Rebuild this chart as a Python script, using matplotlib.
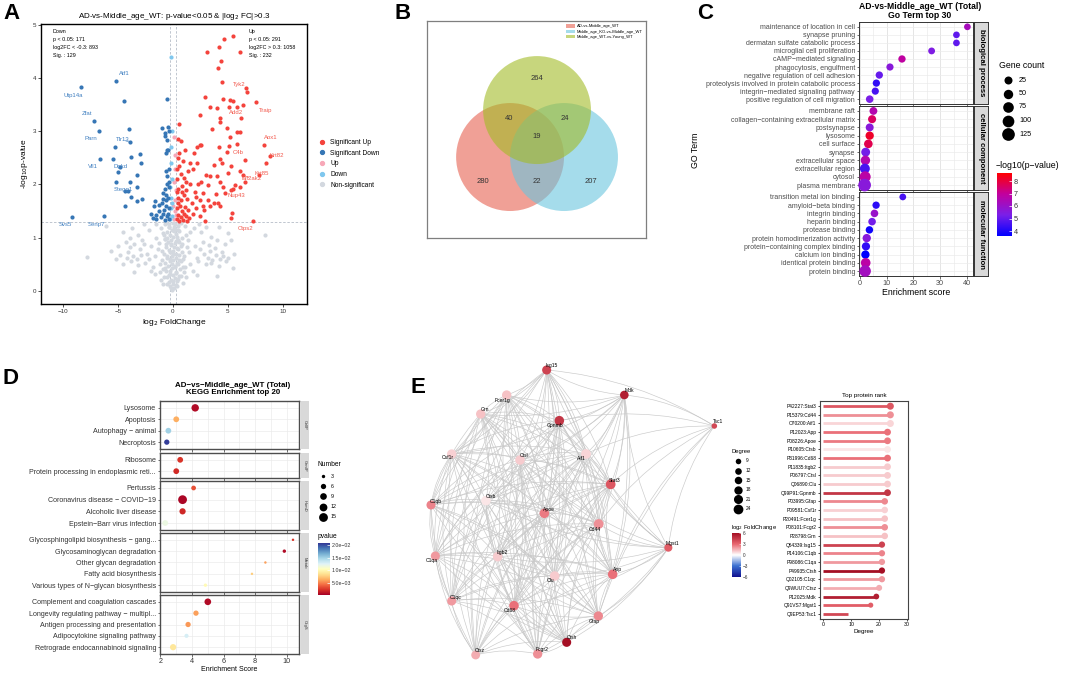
import numpy as np
import matplotlib
matplotlib.use('Agg')
import matplotlib.pyplot as plt
from matplotlib.colors import LinearSegmentedColormap, Normalize
from matplotlib.patches import Circle, FancyArrowPatch, Patch
from matplotlib.lines import Line2D
from matplotlib.cm import ScalarMappable

plt.rcParams['font.family'] = ['Liberation Sans', 'DejaVu Sans']

# ---------------- data: A volcano ----------------
ns_points = [(-0.1,0.02),(0.1,0.05),(-0.3,0.08),(0.25,0.1),(0,0.13),(-0.4,0.16),(0.4,0.18),(-0.15,0.2),(0.15,0.23),
    (-0.5,0.25),(0.55,0.27),(0,0.3),(-0.3,0.32),(0.3,0.35),(-0.6,0.37),(0.65,0.4),(-0.1,0.42),(0.2,0.45),(-0.45,0.47),
    (0.45,0.5),(-0.7,0.52),(0.75,0.55),(0,0.57),(-0.25,0.6),(0.3,0.62),(-0.55,0.65),(0.6,0.67),(-0.8,0.7),(0.85,0.72),
    (0.05,0.75),(-0.35,0.77),(0.4,0.8),(-0.65,0.82),(0.7,0.85),(-0.15,0.87),(0.15,0.9),(-0.45,0.92),(0.5,0.95),(-0.75,0.97),
    (0.8,1.0),(0,1.02),(-0.3,1.05),(0.3,1.07),(-0.55,1.1),(0.6,1.12),(-0.1,1.15),(0.2,1.17),(-0.4,1.2),(0.45,1.22),
    (-0.7,1.25),(0.7,1.27),(0,1.28),(-0.2,0.95),(0.25,0.7),(-0.05,0.5),(0.1,1.2),(-0.85,1.05),(0.9,0.6),
    (-0.8,0.25),(-0.4,0.3),(0.3,0.33),(0.7,0.27),(-1.2,0.35),(1.0,0.36),(-2.0,0.38),(2.2,0.3),(4.0,0.28),(-3.5,0.35),
    (-4.5,0.5),(-3.8,0.55),(-3.2,0.48),(-2.5,0.52),(-1.8,0.45),(-1.2,0.5),(-0.7,0.42),(-0.3,0.55),(0.2,0.47),(0.6,0.58),
    (1.1,0.44),(1.6,0.5),(2.3,0.55),(3.0,0.5),(3.6,0.58),(4.2,0.46),(4.8,0.55),(-5.2,0.6),(5.5,0.42),
    (-5.6,0.75),(-4.8,0.68),(-4.1,0.72),(-3.6,0.65),(-3.0,0.78),(-2.4,0.7),(-1.6,0.66),(-1.0,0.74),(-0.5,0.62),(0,0.7),
    (0.5,0.78),(1.0,0.65),(1.5,0.72),(2.2,0.62),(2.8,0.7),(3.4,0.75),(3.9,0.67),(4.5,0.73),(5.0,0.62),(5.6,0.7),(-7.8,0.63),
    (-5.0,0.85),(-4.3,0.92),(-3.5,0.88),(-2.8,0.95),(-2.0,0.84),(-1.3,0.9),(-0.7,0.98),(-0.2,0.86),(0.3,0.94),(0.8,0.88),
    (1.4,0.96),(2.0,0.85),(2.7,0.92),(3.3,0.86),(4.0,0.95),(4.7,0.88),(5.3,0.96),(-3.9,1.0),
    (-6.1,1.22),(-4.5,1.1),(-3.2,1.05),(-2.2,1.15),(-1.5,1.25),(-0.9,1.08),(-0.4,1.2),(0.1,1.12),(0.6,1.27),(1.2,1.05),
    (1.9,1.18),(2.6,1.1),(3.5,1.02),(4.2,1.2),(5.0,1.08),(8.4,1.05),(-0.6,1.28),(0.4,1.02),
    (-3.3,0.6),(-3.9,0.82),(-4.2,0.62),(-2.9,0.68),(3.2,0.62),(3.8,0.8),(4.3,0.6),(3.5,0.52),(4.6,0.66),(-1.1,0.2),(1.2,0.25),
    (-1.5,1.0),(1.6,1.1),(-2.6,1.25),(2.4,1.25),(-1.0,0.58),(1.3,0.82),(-1.4,0.78),(0.9,0.15),(-0.9,0.12),
    (-0.2,0.05),(0.35,0.08),(-0.55,0.12),(0.05,0.18),(-0.25,0.38),(0.5,0.22),(-0.9,0.4),(0.9,0.45),(-0.1,0.65),
    (0.6,0.92),(-0.6,0.88),(0.2,1.25),(-0.3,0.72),(0.35,0.52),(-0.5,1.0),(0.45,1.15),(-0.35,1.25),(0.1,0.82),
    (-2.2,0.6),(-1.6,0.32),(1.8,0.38),(2.5,0.78),(-2.6,0.88),(1.1,1.22),(-1.1,1.18),(3.0,1.2),(-3.7,1.18)]
up_sig_points = [(5.5,4.79),(4.62,4.74),(3.07,4.49),(6.1,4.49),(4.2,4.59),(4.4,4.32),(4.13,4.19),(4.5,3.93),(6.63,3.81),
    (6.7,3.74),(2.95,3.65),(3.37,3.46),(3.98,3.43),(4.6,3.6),(5.2,3.59),(5.5,3.58),(7.54,3.55),(5.13,3.45),(5.8,3.46),
    (6.4,3.49),(2.46,3.3),(4.29,3.26),(6.17,3.26),(4.3,3.18),(4.9,3.07),(3.56,3.04),(5.8,2.98),(6.1,2.98),(5.2,2.89),
    (5.8,2.76),(5.13,2.73),(4.2,2.7),(8.3,2.74),(2.46,2.74),(2.15,2.7),(4.9,2.62),(6.56,2.46),(4.3,2.47),(4.45,2.41),
    (8.8,2.53),(8.5,2.41),(3.7,2.37),(5.26,2.34),(6.1,2.26),(3.0,2.18),(3.37,2.15),(3.98,2.16),(5.05,2.21),(6.35,2.18),
    (7.8,2.18),(6.56,2.05),(2.6,2.05),(3.2,1.99),(4.3,2.05),(5.65,1.99),(4.6,1.96),(6.1,1.96),(5.5,1.91),(4.77,1.84),
    (3.92,1.82),(2.77,1.84),(2.07,1.77),(2.46,1.71),(3.2,1.71),(3.7,1.66),(4.13,1.66),(5.26,1.9),(3.37,1.59),(2.83,1.52),
    (4.3,1.59),(5.35,1.46),(5.26,1.36),(7.33,1.32),(2.92,1.31),
    (0.35,1.35),(0.5,1.42),(0.7,1.38),(0.9,1.33),(1.2,1.4),(1.5,1.36),(0.4,1.55),(0.65,1.6),(0.85,1.5),(1.1,1.58),
    (1.4,1.52),(1.8,1.45),(0.45,1.75),(0.75,1.7),(1.0,1.8),(1.3,1.72),(1.7,1.65),(2.1,1.55),(0.5,1.92),(0.8,1.98),
    (1.2,1.9),(1.6,2.0),(2.0,1.85),(0.4,2.1),(0.7,2.2),(1.0,2.12),(1.4,2.25),(1.8,2.3),(2.2,2.4),(0.55,2.35),(0.9,2.45),
    (0.6,2.6),(1.1,2.65),(0.5,2.85),(0.7,2.82),(0.55,3.13),(0.35,1.85),(0.38,2.3),(2.5,1.4),(2.7,1.6),(1.9,2.6),
    (2.6,2.75),(1.6,2.4),(2.3,2.0),(0.6,1.32),(1.0,1.45),(1.3,1.32),(0.45,1.65),(0.8,1.85),(1.2,2.05),(0.5,2.5)]
down_sig_points = [(-8.39,3.83),(-5.14,3.95),(-4.47,3.57),(-0.58,3.6),(-7.17,3.2),(-6.75,3.01),(-3.98,3.04),(-3.86,2.79),
    (-5.29,2.7),(-6.6,2.48),(-5.44,2.48),(-3.77,2.51),(-3.0,2.57),(-2.86,2.41),(-5.0,2.24),(-4.83,2.32),(-3.3,2.18),
    (-5.2,2.05),(-3.86,2.05),(-4.38,1.87),(-4.13,1.87),(-3.3,1.96),(-3.77,1.76),(-3.3,1.68),(-2.77,1.72),(-4.38,1.6),
    (-9.15,1.38),(-6.3,1.4),(-1.85,1.37),(-1.55,1.43),(-1.24,1.62),(-1.64,1.68),(-0.88,1.84),(-1.03,3.06),(-0.43,3.09),
    (-0.73,2.96),(-0.58,2.84),(-0.58,2.65),
    (-0.35,1.35),(-0.5,1.4),(-0.7,1.33),(-0.9,1.45),(-1.1,1.38),(-0.4,1.55),(-0.6,1.6),(-0.8,1.52),(-1.0,1.65),(-1.3,1.5),
    (-0.45,1.75),(-0.65,1.8),(-0.9,1.72),(-0.4,1.95),(-0.55,2.0),(-0.75,1.92),(-0.5,2.15),(-0.65,2.25),(-0.35,2.3),
    (-0.6,2.6),(-0.45,2.65),(-0.7,2.92),(-0.4,3.0),(-1.5,1.35),(-2.0,1.45),(-1.7,1.6),(-0.45,1.45),(-0.6,1.7),(-0.4,2.05)]
up_points = [(0.1,1.35),(0.2,1.5),(0.15,1.7),(0.25,1.9),(0.1,2.05),(0.2,2.3),(0.15,2.55),(0.05,1.6),(0.28,1.42),(0.12,2.9)]
down_points = [(-0.1,1.4),(-0.2,1.55),(-0.15,1.75),(-0.25,1.95),(-0.1,2.1),(-0.2,2.4),(-0.15,2.7),(-0.05,1.65),
    (-0.25,1.35),(-0.2,4.4),(-0.1,3.0)]
down_genes = ['Utp14a', 'Atf1', 'Zfat', 'Parn', 'Tlr13', 'Vil1', 'Dgkd', 'Stegg1', 'Svs5', 'Senp7']
down_gene_xy = [(-8.39,3.83),(-5.14,3.95),(-7.17,3.2),(-6.75,3.01),(-3.86,2.79),(-6.6,2.48),(-5.0,2.24),(-5.2,2.05),
    (-9.15,1.38),(-6.3,1.4)]
down_text_xy = [(-9.03,3.68),(-4.44,4.09),(-7.81,3.34),(-7.42,2.86),(-4.59,2.84),(-7.26,2.34),(-4.77,2.34),(-4.53,1.9),
    (-9.76,1.24),(-6.96,1.25)]
up_genes = ['Tyk2', 'Traip', 'Add2', 'Aox1', 'C4b', 'Krt82', 'Krt85', 'Eif2ak2', 'Nup43', 'Ctps2']
up_gene_xy = [(6.7,3.74),(7.54,3.55),(5.13,3.45),(8.3,2.74),(6.56,2.46),(8.8,2.53),(8.5,2.41),(6.35,2.18),(5.26,1.9),(7.33,1.32)]
up_text_xy = [(6.05,3.89),(8.45,3.4),(5.74,3.35),(8.94,2.88),(5.9,2.6),(9.45,2.54),(8.09,2.21),(7.17,2.11),(5.8,1.79),(6.63,1.18)]
down_stats = "Down\np < 0.05: 171\nlog2FC < -0.3: 893\nSig. : 129"
up_stats = "Up\np < 0.05: 291\nlog2FC > 0.3: 1058\nSig. : 232"

# ---------------- data: B venn ----------------
venn_sets = ['AD-vs-Middle_age_WT', 'Middle_age_KO-vs-Middle_age_WT', 'Middle_age_WT-vs-Young_WT']
venn_counts = {'A': 280, 'B': 207, 'C': 264, 'AC': 40, 'BC': 24, 'AB': 22, 'ABC': 19}

# ---------------- data: C GO ----------------
go_groups = ['biological process', 'cellular component', 'molecular function']
bp_terms = ['maintenance of location in cell', 'synapse pruning', 'dermatan sulfate catabolic process',
            'microglial cell proliferation', 'cAMP\u2212mediated signaling', 'phagocytosis, engulfment',
            'negative regulation of cell adhesion', 'proteolysis involved in protein catabolic process',
            'integrin\u2212mediated signaling pathway', 'positive regulation of cell migration']
bp_score = [40.2, 36.1, 36.1, 26.8, 15.7, 11.2, 7.2, 6.1, 5.7, 3.6]
bp_logp = [6.3, 4.9, 4.9, 5.4, 6.9, 5.6, 5.0, 4.3, 4.6, 5.3]
bp_count = [5, 5, 5, 7, 14, 12, 14, 13, 12, 18]
cc_terms = ['membrane raft', 'collagen\u2212containing extracellular matrix', 'postsynapse', 'lysosome', 'cell surface',
            'synapse', 'extracellular space', 'extracellular region', 'cytosol', 'plasma membrane']
cc_score = [5.0, 4.5, 3.6, 3.6, 3.1, 2.1, 2.0, 1.8, 1.9, 1.7]
cc_logp = [6.6, 7.6, 5.6, 8.2, 7.8, 5.2, 6.6, 4.6, 6.8, 5.6]
cc_count = [22, 26, 24, 30, 35, 40, 50, 60, 85, 125]
mf_terms = ['transition metal ion binding', 'amyloid\u2212beta binding', 'integrin binding', 'heparin binding',
            'protease binding', 'protein homodimerization activity', 'protein\u2212containing complex binding',
            'calcium ion binding', 'identical protein binding', 'protein binding']
mf_score = [16.0, 6.0, 5.4, 4.5, 3.5, 2.5, 2.2, 2.0, 2.1, 1.9]
mf_logp = [4.6, 4.2, 6.0, 5.2, 3.8, 5.6, 4.3, 3.6, 6.8, 6.2]
mf_count = [6, 14, 18, 18, 16, 30, 28, 30, 55, 95]
go_size_legend = [25, 50, 75, 100, 125]

# ---------------- data: D KEGG ----------------
kegg_groups = ['CellP', 'GenIP', 'HumD', 'Metab', 'OrgS']
cellp_terms = ['Lysosome', 'Apoptosis', 'Autophagy \u2212 animal', 'Necroptosis']
cellp_score = [4.2, 3.0, 2.5, 2.4]
cellp_p = [0.0008, 0.0065, 0.0150, 0.0205]
cellp_n = [11, 7, 7, 6]
genip_terms = ['Ribosome', 'Protein processing in endoplasmic reti...']
genip_score = [3.25, 3.0]
genip_p = [0.0025, 0.0022]
genip_n = [7, 7]
humd_terms = ['Pertussis', 'Coronavirus disease \u2212 COVID\u221219', 'Alcoholic liver disease', 'Epstein\u2212Barr virus infection']
humd_score = [4.1, 3.4, 3.4, 2.3]
humd_p = [0.0035, 0.0006, 0.0020, 0.0118]
humd_n = [5, 15, 8, 7]
metab_terms = ['Glycosphingolipid biosynthesis \u2212 gang...', 'Glycosaminoglycan degradation', 'Other glycan degradation',
               'Fatty acid biosynthesis', 'Various types of N\u2212glycan biosynthesis']
metab_score = [10.4, 9.85, 8.65, 7.8, 4.85]
metab_p = [0.0025, 0.0008, 0.0060, 0.0078, 0.0102]
metab_n = [2, 3, 2, 2, 3]
orgs_terms = ['Complement and coagulation cascades', 'Longevity regulating pathway \u2212 multipl...',
              'Antigen processing and presentation', 'Adipocytokine signaling pathway', 'Retrograde endocannabinoid signaling']
orgs_score = [5.0, 4.25, 3.75, 3.65, 2.8]
orgs_p = [0.0008, 0.0060, 0.0058, 0.0130, 0.0090]
orgs_n = [9, 6, 6, 4, 8]
kegg_size_legend = [3, 6, 9, 12, 15]

# ---------------- data: E network + rank ----------------
proteins = ['Stat3', 'Cd44', 'Aif1', 'App', 'Apoe', 'Ctsb', 'Cd68', 'Itgb2', 'Ctsl', 'Clu', 'Gpnmb', 'Gfap', 'Csf1r',
            'Fcer1g', 'Fcgr2', 'Grn', 'Isg15', 'C1qb', 'C1qa', 'Ctsh', 'C1qc', 'Ctsz', 'Mdk', 'Mgst1', 'Tsc1']
accessions = ['P42227', 'P15379', 'O70200', 'P12023', 'P08226', 'P10605', 'P31996', 'P11835', 'P06797', 'Q06890',
              'Q99P91', 'P03995', 'P09581', 'P20491', 'P08101', 'P28798', 'Q64339', 'P14106', 'P98086', 'P49935',
              'Q02105', 'Q9WUU7', 'P12025', 'Q91VS7', 'Q9EP53']
degree = [24, 24, 24, 23, 23, 23, 23, 23, 23, 23, 23, 22, 22, 22, 22, 22, 21, 21, 21, 21, 21, 20, 19, 17, 9]
log2fc = [3.5, 2.2, 0.8, 2.8, 2.6, 0.5, 2.8, 1.0, 1.0, 1.0, 4.6, 2.3, 0.9, 1.2, 2.2, 1.2, 4.2, 2.4, 2.0, 6.0, 2.0,
          1.6, 5.4, 3.3, 4.0]
# layout coordinates of the network drawing
layout_x = [75.2, 71.6, 67.8, 75.8, 55.3, 37.8, 46.2, 41.3, 48.0, 58.4, 59.8, 71.5, 27.5, 44.0, 53.3, 36.2, 56.0, 21.3,
            22.6, 62.0, 27.5, 34.7, 79.3, 92.5, 106.3]
layout_y = [49.3, 61.2, 40.2, 76.3, 58.0, 54.2, 85.7, 71.0, 42.0, 76.8, 30.2, 88.8, 40.2, 22.5, 100.2, 28.2, 15.0, 55.5,
            70.8, 96.7, 84.3, 100.5, 22.5, 68.3, 31.8]
tsc1_links = ['Isg15', 'Mdk', 'Gpnmb', 'Aif1', 'Stat3', 'Cd44', 'Mgst1', 'App', 'Gfap']
missing_links = [('Mgst1', 'C1qb'), ('Mgst1', 'C1qa'), ('Mgst1', 'C1qc'), ('Mgst1', 'Ctsz'), ('Mgst1', 'Grn'),
                 ('Mgst1', 'Csf1r'), ('Mgst1', 'Fcer1g'), ('Mdk', 'Ctsz'), ('Mdk', 'C1qc'), ('Mdk', 'Ctsh'),
                 ('Mdk', 'Fcgr2'), ('Mdk', 'C1qa'), ('Isg15', 'Ctsz'), ('Isg15', 'Ctsh'), ('Isg15', 'Gfap'),
                 ('App', 'C1qb'), ('Gpnmb', 'Gfap')]
degree_legend = [9, 12, 15, 18, 21, 24]

# ---------------- figure ----------------
W, H = 1065, 673
fig = plt.figure(figsize=(W / 100, H / 100), dpi=100)


def add_ax(x0, y0, x1, y1, **kw):
    return fig.add_axes([x0 / W, 1 - y1 / H, (x1 - x0) / W, (y1 - y0) / H], **kw)


def px(x, y):
    return (x / W, 1 - y / H)


for lab, (lx, ly) in zip('ABCDE', [(3, 3), (395, 3), (697, 3), (3, 368), (411, 377)]):
    fig.text(*px(lx, ly), lab, fontsize=16, fontweight='bold', va='top', ha='left')

# ---- A: volcano ----
ax = add_ax(41, 24, 307, 304)
col_ns, col_up_sig, col_down_sig, col_up, col_down = '#D3D8DF', '#F4433C', '#3676B5', '#F7A8B8', '#7FC7EE'
for pts, col in [(ns_points, col_ns), (up_points, col_up), (down_points, col_down),
                 (up_sig_points, col_up_sig), (down_sig_points, col_down_sig)]:
    xs, ys = zip(*pts)
    ax.scatter(xs, ys, s=9, c=col, linewidths=0, zorder=2)
for v in [-0.3, 0.3]:
    ax.axvline(v, ls=(0, (3, 2)), color='#B5BDC8', lw=0.6, zorder=1)
ax.axhline(1.3, ls=(0, (3, 2)), color='#B5BDC8', lw=0.6, zorder=1)
for genes, gxy, txy, col in [(down_genes, down_gene_xy, down_text_xy, '#3F7FC0'),
                             (up_genes, up_gene_xy, up_text_xy, '#F25A4E')]:
    for g, p, t in zip(genes, gxy, txy):
        ax.annotate(g, xy=p, xytext=t, fontsize=4.3, color=col, ha='center', va='center',
                    arrowprops=dict(arrowstyle='-', color=col, lw=0.4, shrinkA=2, shrinkB=1), zorder=4)
ax.text(-10.95, 4.92, down_stats, fontsize=3.9, va='top', ha='left', linespacing=1.7)
ax.text(6.9, 4.92, up_stats, fontsize=3.9, va='top', ha='left', linespacing=1.7)
ax.set_xlim(-12, 12.2)
ax.set_ylim(-0.25, 5.02)
ax.set_xticks([-10, -5, 0, 5, 10])
ax.set_yticks([0, 1, 2, 3, 4, 5])
ax.tick_params(labelsize=4.5, length=2, width=0.6, pad=1.5, colors='#333333')
for s in ax.spines.values():
    s.set_linewidth(1.0)
ax.set_title('AD-vs-Middle_age_WT: p-value<0.05 & |log$_2$ FC|>0.3', fontsize=5.8, pad=4)
ax.set_xlabel('log$_2$ FoldChange', fontsize=6, labelpad=2)
ax.set_ylabel('-log$_{10}$p-value', fontsize=6, labelpad=2)
handles = [Line2D([], [], marker='o', ls='', color=c, markersize=2.8) for c in
           [col_up_sig, col_down_sig, col_up, col_down, col_ns]]
ax.legend(handles, ['Significant Up', 'Significant Down', 'Up', 'Down', 'Non-significant'], loc='center left',
          bbox_to_anchor=(1.02, 0.5), frameon=False, fontsize=4.8, handletextpad=0.3, labelspacing=0.55,
          borderaxespad=0)

# ---- B: venn ----
axb = add_ax(427, 21, 646, 238)
venn_fill = ['#E66150', '#69C5DE', '#A3BC26']
centers = [(-0.5, 0.0), (0.5, 0.0), (0.0, 0.87)]
for (cx, cy), c in zip(centers, venn_fill):
    axb.add_patch(Circle((cx, cy), 1.0, facecolor=c, alpha=0.6, edgecolor='none'))
region_pos = {'A': (-1.0, -0.45), 'B': (1.0, -0.45), 'C': (0.0, 1.45), 'AC': (-0.52, 0.72),
              'BC': (0.52, 0.72), 'AB': (0.0, -0.45), 'ABC': (0.0, 0.38)}
for key, val in venn_counts.items():
    axb.text(*region_pos[key], str(val), ha='center', va='center', fontsize=5.5, color='#333333')
axb.set_xlim(-2.04, 2.02)
axb.set_ylim(-1.5, 2.52)
axb.set_xticks([])
axb.set_yticks([])
for s in axb.spines.values():
    s.set_color('#7F7F7F')
    s.set_linewidth(0.9)
axb.legend([Patch(facecolor=c, alpha=0.6) for c in venn_fill], venn_sets, loc='upper right', fontsize=3.0,
           frameon=False, handlelength=2.2, handleheight=0.8, labelspacing=0.3, borderaxespad=0.4,
           handletextpad=0.4)

# ---- C: GO bubble ----
cmap_go = LinearSegmentedColormap.from_list('go', ['#0000FF', '#7A1FE8', '#C2009E', '#FF0000'])
norm_go = Normalize(3.6, 8.64)


def go_size(c):
    return 0.518 * (40 + 0.97 * np.asarray(c, dtype=float))


go_data = [(bp_terms, bp_score, bp_logp, bp_count), (cc_terms, cc_score, cc_logp, cc_count),
           (mf_terms, mf_score, mf_logp, mf_count)]
for gi, (grp, (terms, score, logp, cnt), (t, b)) in enumerate(
        zip(go_groups, go_data, [(22, 104), (106, 190), (192, 276)])):
    axc = add_ax(859, t, 973, b)
    yy = np.arange(len(terms))[::-1]
    axc.scatter(score, yy, s=go_size(cnt), c=logp, cmap=cmap_go, norm=norm_go, linewidths=0, zorder=3,
                clip_on=False)
    axc.set_ylim(-0.6, len(terms) - 0.4)
    axc.set_xlim(-0.4, 42.3)
    axc.set_yticks(yy)
    axc.set_yticklabels(terms, fontsize=5.0, color='#4D4D4D')
    axc.set_xticks([0, 10, 20, 30, 40])
    axc.set_xticks([5, 15, 25, 35], minor=True)
    axc.grid(True, which='both', color='#EBEBEB', lw=0.5)
    axc.grid(True, which='major', axis='x', color='#E0E0E0', lw=0.6)
    axc.set_axisbelow(True)
    axc.tick_params(length=1.8, width=0.5, pad=1, colors='#333333', labelcolor='#4D4D4D')
    axc.tick_params(which='minor', length=0)
    for s in axc.spines.values():
        s.set_color('#333333')
        s.set_linewidth(0.7)
    if gi < 2:
        axc.set_xticklabels([])
    else:
        axc.tick_params(axis='x', labelsize=5.2)
        axc.set_xlabel('Enrichment score', fontsize=6.3, labelpad=1)
    st = add_ax(974, t, 988, b)
    st.set_facecolor('#D9D9D9')
    st.set_xticks([])
    st.set_yticks([])
    for s in st.spines.values():
        s.set_color('#333333')
        s.set_linewidth(0.7)
    st.text(0.5, 0.5, grp, rotation=-90, ha='center', va='center', fontsize=5.6, fontweight='bold',
            transform=st.transAxes)
fig.text(*px(695, 150), 'GO Term', rotation=90, ha='center', va='center', fontsize=6.3)
fig.text(*px(920, 11), 'AD-vs-Middle_age_WT (Total)\nGo Term top 30', ha='center', va='center', fontsize=6.2,
         fontweight='bold', linespacing=1.0)

# overlay axes in pixel space for legends
ov = fig.add_axes([0, 0, 1, 1], zorder=10)
ov.set_xlim(0, W)
ov.set_ylim(H, 0)
ov.axis('off')
ov.patch.set_alpha(0)

ov.text(999, 65, 'Gene count', fontsize=6.3, va='center')
for i, v in enumerate(go_size_legend):
    yv = 80 + i * 13.5
    ov.scatter([1008], [yv], s=go_size([v]), c='black', linewidths=0)
    ov.text(1019, yv, str(v), fontsize=5.2, va='center')
ov.text(996, 165, '\u2212log10(p\u2212value)', fontsize=6.3, va='center')
cax = add_ax(997, 173, 1012, 236)
cb = fig.colorbar(ScalarMappable(norm=norm_go, cmap=cmap_go), cax=cax)
cb.outline.set_visible(False)
cb.set_ticks([4, 5, 6, 7, 8])
cax.tick_params(labelsize=5.2, length=2, width=0.5, colors='white', labelcolor='#333333', pad=1.5, direction='in')

# ---- D: KEGG bubble ----
cmap_kegg = plt.get_cmap('RdYlBu')
norm_kegg = Normalize(0.0003, 0.0208)


def kegg_size(n):
    return 0.518 * np.maximum(5.5 * np.asarray(n, dtype=float) - 5.0, 3.5)


kegg_data = [(cellp_terms, cellp_score, cellp_p, cellp_n), (genip_terms, genip_score, genip_p, genip_n),
             (humd_terms, humd_score, humd_p, humd_n), (metab_terms, metab_score, metab_p, metab_n),
             (orgs_terms, orgs_score, orgs_p, orgs_n)]
kegg_px = [(401, 449), (453, 478), (481, 530), (533, 592), (595, 654)]
for gi, (grp, (terms, score, pv, nn), (t, b)) in enumerate(zip(kegg_groups, kegg_data, kegg_px)):
    axd = add_ax(160, t, 299, b)
    yy = np.arange(len(terms))[::-1]
    axd.scatter(score, yy, s=kegg_size(nn), c=pv, cmap=cmap_kegg, norm=norm_kegg, linewidths=0, zorder=3)
    axd.set_ylim(-0.6, len(terms) - 0.4)
    axd.set_xlim(1.97, 10.78)
    axd.set_yticks(yy)
    axd.set_yticklabels(terms, fontsize=5.1, color='#333333')
    axd.set_xticks([2, 4, 6, 8, 10])
    axd.set_xticks([3, 5, 7, 9], minor=True)
    axd.grid(True, which='both', color='#EBEBEB', lw=0.5)
    axd.set_axisbelow(True)
    axd.tick_params(length=1.8, width=0.5, pad=1, colors='#333333')
    axd.tick_params(which='minor', length=0)
    for s in axd.spines.values():
        s.set_color('#4D4D4D')
        s.set_linewidth(1.0)
    if gi < 4:
        axd.set_xticklabels([])
    else:
        axd.tick_params(axis='x', labelsize=5.2)
        axd.set_xlabel('Enrichment Score', fontsize=5, labelpad=1)
    st = add_ax(301, t, 309, b)
    st.set_facecolor('#D9D9D9')
    st.set_xticks([])
    st.set_yticks([])
    for s in st.spines.values():
        s.set_visible(False)
    st.text(0.5, 0.5, grp, rotation=-90, ha='center', va='center', fontsize=3.0, color='#333333',
            transform=st.transAxes)
fig.text(*px(233, 389), 'AD\u2212vs\u2212Middle_age_WT (Total)\nKEGG Enrichment top 20', ha='center', va='center',
         fontsize=5.7, fontweight='bold', linespacing=1.0)
ov.text(318, 465, 'Number', fontsize=4.8, va='center')
for i, v in enumerate(kegg_size_legend):
    yv = 476 + i * 10.2
    ov.scatter([323], [yv], s=kegg_size([v]), c='black', linewidths=0)
    ov.text(331, yv, str(v), fontsize=3.8, va='center')
ov.text(318, 537, 'pvalue', fontsize=4.8, va='center')
cax2 = add_ax(318, 543, 330, 595)
cb2 = fig.colorbar(ScalarMappable(norm=norm_kegg, cmap=cmap_kegg), cax=cax2)
cb2.outline.set_visible(False)
cb2.set_ticks([0.02, 0.015, 0.01, 0.005])
cb2.set_ticklabels(['2.0e\u221202', '1.5e\u221202', '1.0e\u221202', '5.0e\u221203'])
cax2.tick_params(labelsize=3.8, length=2, width=0.5, colors='white', labelcolor='#333333', pad=1, direction='in')

# ---- E: network ----
cmap_fc = LinearSegmentedColormap.from_list('fc', ['#10108F', '#3A6FD0', '#FFFFFF', '#E8666F', '#A50F24'])
norm_fc = Normalize(-6, 6)
axe = add_ax(425, 360, 720, 662)
pos = {p: (x, y) for p, x, y in zip(proteins, layout_x, layout_y)}
core = [p for p in proteins if p != 'Tsc1']
missing = set(frozenset(m) for m in missing_links)
edges = []
for i, a in enumerate(core):
    for b2 in core[i + 1:]:
        if frozenset((a, b2)) not in missing:
            edges.append((a, b2))
edges += [('Tsc1', p) for p in tsc1_links]
for a, b2 in edges:
    axe.add_patch(FancyArrowPatch(pos[a], pos[b2], connectionstyle='arc3,rad=0.12', arrowstyle='-',
                                  color='#C9C9C9', lw=0.45, shrinkA=0, shrinkB=0, zorder=1))


def net_size(d):
    return 0.518 * (4.3 * np.asarray(d, dtype=float) - 8.0)


axe.scatter(layout_x, layout_y, s=net_size(degree), c=log2fc, cmap=cmap_fc, norm=norm_fc, linewidths=0, zorder=3)
label_offset = {'Isg15': (15, -13), 'Mdk': (15, -13), 'Tsc1': (12, -13), 'Fcer1g': (-12, 16), 'Grn': (13, -13),
                'Gpnmb': (-13, 16), 'Csf1r': (-13, 11), 'Ctsl': (13, -12), 'Aif1': (-13, 13), 'Stat3': (13, -11),
                'C1qb': (13, -10), 'Ctsb': (14, -12), 'Apoe': (14, -12), 'Cd44': (-12, 16), 'Mgst1': (13, -13),
                'C1qa': (-12, 14), 'Itgb2': (13, -13), 'Clu': (-12, 12), 'App': (14, -13), 'C1qc': (13, -12),
                'Cd68': (-12, 15), 'Gfap': (-13, 15), 'Ctsh': (15, -14), 'Ctsz': (13, -12), 'Fcgr2': (14, -12)}
for p in proteins:
    dx, dy = label_offset[p]
    axe.text(pos[p][0] + dx / 10, pos[p][1] + dy / 10, p, fontsize=3.6, ha='center', va='center', zorder=4)
axe.set_xlim(19.5, 108.0)
axe.set_ylim(102.6, 12.0)
axe.axis('off')

ov.text(732, 452, 'Degree', fontsize=4.2, va='center')
for i, v in enumerate(degree_legend):
    yv = 461 + i * 9.6
    ov.scatter([738], [yv], s=net_size([v]), c='black', linewidths=0)
    ov.text(746, yv, str(v), fontsize=3.4, va='center')
ov.text(731, 527, 'log$_2$ FoldChange', fontsize=4.2, va='center')
cax3 = add_ax(732, 533, 741, 577)
cb3 = fig.colorbar(ScalarMappable(norm=norm_fc, cmap=cmap_fc), cax=cax3)
cb3.outline.set_visible(False)
cb3.set_ticks([6, 3, 0, -3, -6])
cax3.tick_params(labelsize=3.4, length=1.5, width=0.4, colors='white', labelcolor='#333333', pad=1, direction='in')

# ---- E: top protein rank ----
axr = add_ax(820, 401, 908, 619)
yy = np.arange(len(proteins))[::-1]
rank_cols = cmap_fc(norm_fc(log2fc))
axr.hlines(yy, 0, degree, colors=rank_cols, lw=2.0, zorder=2)
axr.scatter(degree, yy, s=0.518 * 3.3 * (np.array(degree) - 9), c=rank_cols, linewidths=0, zorder=3)
axr.set_ylim(-0.6, len(proteins) - 0.4)
axr.set_xlim(-1.1, 30.3)
axr.set_yticks(yy)
axr.set_yticklabels([f'{a}:{p}' for a, p in zip(accessions, proteins)], fontsize=3.5)
axr.set_xticks([0, 10, 20, 30])
axr.tick_params(axis='x', labelsize=3.8, length=1.5, width=0.5, pad=1)
axr.tick_params(axis='y', length=1.5, width=0.5, pad=1)
for s in axr.spines.values():
    s.set_color('#444444')
    s.set_linewidth(0.8)
axr.set_title('Top protein rank', fontsize=4.5, pad=3)
axr.set_xlabel('Degree', fontsize=4.5, labelpad=1)

fig.savefig('out.png', dpi=100)
